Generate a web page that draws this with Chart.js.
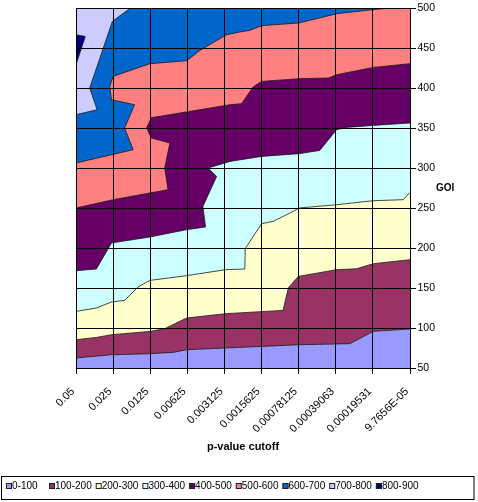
<!DOCTYPE html>
<html><head><meta charset="utf-8">
<style>html,body{margin:0;padding:0;background:#fff;}canvas{display:block;}</style>
<script src="https://cdn.jsdelivr.net/npm/chart.js@4.4.0/dist/chart.umd.min.js"></script>
</head><body>
<canvas id="c" width="478" height="502"></canvas>
<script>
// Category tick labels (x = p-value cutoff), index 0..9
const xLabels = ['0.05','0.025','0.0125','0.00625','0.003125','0.0015625','0.00078125','0.00039063','0.00019531','9.7656E-05'];
const xTitle = 'p-value cutoff';
const yTitle = 'GOI';
const bandLabels = ['0-100','100-200','200-300','300-400','400-500','500-600','600-700','700-800','800-900'];
const bandColors = ['#9999FF','#993366','#FFFFCC','#CCFFFF','#660066','#FF8080','#0066CC','#CCCCFF','#000080'];

// Contour boundaries: [category position, GOI]
const bound100 = [[0,62.5],[0.955,66.6],[1.99,67.9],[2.62,69.5],[2.98,72.9],[4.03,75],[5.0,77],[6.01,79.1],[7.38,80.4],[8.01,95.8],[9,98.8]];
const bound200 = [[0,85.4],[0.55,88.25],[0.955,91.6],[1.99,95.75],[2.39,99.1],[2.98,112.5],[4.03,117.9],[5.58,122],[5.72,150],[5.99,164.5],[7.02,172.9],[7.56,174.1],[8.01,180.4],[9,185.4]];
const bound300 = [[0,120.75],[0.55,125],[0.955,132.5],[1.31,134.5],[1.67,151.25],[1.99,159.5],[2.98,165.4],[4.03,172.9],[4.55,173.75],[4.56,199.1],[5.0,230.4],[5.31,233.25],[5.85,245.75],[6.01,250],[7.02,254.1],[8.01,259.1],[8.82,260.4],[9,269.5]];
const bound400 = [[0,171.6],[0.55,173.75],[0.955,206.25],[1.99,213.75],[2.98,222.9],[3.49,226.25],[3.42,252],[3.79,289.5],[3.56,300],[4.15,308.25],[5.0,314.5],[6.01,317.9],[6.57,322],[7.02,347.9],[7.29,350.75],[8.01,353.25],[9,356.25]];
const bound500 = [[0,250],[1.0,260.4],[2.48,272.9],[2.39,300],[2.53,331.25],[2.03,337.5],[1.9,350],[2.03,362.9],[4.15,379.1],[4.46,380.4],[4.77,401.25],[5.0,408.25],[6.01,411.6],[6.8,412.5],[7.02,416.6],[8.01,425.75],[9,430.4]];
const bound600 = [[0,306.25],[1.54,322.9],[1.31,350],[1.58,379.1],[0.955,385.4],[0.91,402],[1.0,414.5],[1.99,430.4],[2.985,434.1],[3.34,447],[3.52,452],[4.06,466.6],[4.41,470],[4.68,472],[5.0,477.9],[6.0,481.25],[7.03,492.9],[8.0,497.9],[8.46,500]];
const bound700 = [[0,366.6],[0.57,372.9],[0.37,400],[0.98,483.25],[1.22,491.6],[1.475,500]];
const bound800Lower = [[0,429.1],[0.25,464.5]];
const bound800Upper = [[0,466.6],[0.25,464.5]];

const FONT = '"Liberation Sans", Arial, sans-serif';
Chart.defaults.font.family = FONT;
Chart.defaults.color = '#000';

const toPts = a => a.map(([x, y]) => ({x, y}));
function band(pts, color, fill) {
  return {data: toPts(pts), backgroundColor: color, borderColor: '#1a1a1a', borderWidth: 0.8,
          pointRadius: 0, pointHoverRadius: 0, tension: 0, fill};
}

const overlay = {
  id: 'overlay',
  beforeDraw(chart) {
    const {ctx, chartArea: a} = chart;
    ctx.save();
    ctx.fillStyle = '#fff';
    ctx.fillRect(0, 0, chart.width, chart.height);
    ctx.fillStyle = bandColors[0];
    ctx.fillRect(a.left, a.top, a.right - a.left, a.bottom - a.top);
    ctx.restore();
  },
  afterDraw(chart) {
    const {ctx, chartArea: a} = chart;
    ctx.save();
    ctx.fillStyle = '#000';
    ctx.textBaseline = 'middle';
    ctx.textAlign = 'left';
    ctx.font = 'bold 10px ' + FONT;
    ctx.fillText(yTitle, a.right + 26, a.top + 180);
    // legend
    ctx.strokeStyle = '#000';
    ctx.lineWidth = 1;
    ctx.strokeRect(1.5, 476.5, 472.5, 23);
    ctx.font = '10px ' + FONT;
    let x = 6;
    bandLabels.forEach((lab, i) => {
      ctx.fillStyle = bandColors[i];
      ctx.fillRect(x, 483, 6, 6);
      ctx.strokeStyle = '#222';
      ctx.strokeRect(x + 0.5, 483.5, 5, 5);
      ctx.fillStyle = '#000';
      ctx.fillText(lab, x + 6, 486.5);
      x += Math.max(ctx.measureText(lab).width, 33) + 10;
    });
    ctx.restore();
  }
};

new Chart(document.getElementById('c'), {
  type: 'line',
  data: {
    datasets: [
      band(bound800Lower, bandColors[8], '+1'),
      band(bound800Upper, bandColors[8], false),
      band(bound700, bandColors[7], 'end'),
      band(bound600, bandColors[6], 'end'),
      band(bound500, bandColors[5], 'end'),
      band(bound400, bandColors[4], 'end'),
      band(bound300, bandColors[3], 'end'),
      band(bound200, bandColors[2], 'end'),
      band(bound100, bandColors[1], 'end')
    ]
  },
  options: {
    responsive: false,
    animation: false,
    events: [],
    layout: {padding: {left: 76, top: 8, right: 0, bottom: 48}},
    plugins: {legend: {display: false}, tooltip: {enabled: false}},
    scales: {
      x: {
        type: 'linear', min: 0, max: 9,
        afterFit: s => { s.height = 86; },
        grid: {color: '#000', lineWidth: 1, tickLength: 6, z: 1},
        border: {color: '#000', width: 1, z: 1},
        ticks: {stepSize: 1, autoSkip: false, maxRotation: 45, minRotation: 45, padding: 11, labelOffset: -3,
                color: '#000', font: {size: 11}, callback: v => (xLabels[v] !== undefined ? xLabels[v] : '')},
        title: {display: true, text: xTitle, color: '#000', font: {size: 11, weight: 'bold'}, padding: {top: 0, bottom: 0}}
      },
      y: {
        type: 'linear', position: 'right', min: 50, max: 500,
        afterFit: s => { s.width = 68; },
        grid: {color: '#000', lineWidth: 1, tickLength: 6, z: 1},
        border: {color: '#000', width: 1, z: 1},
        ticks: {stepSize: 50, padding: 1.5, color: '#000', font: {size: 10.5}}
      }
    }
  },
  plugins: [overlay]
});
</script>
</body></html>
